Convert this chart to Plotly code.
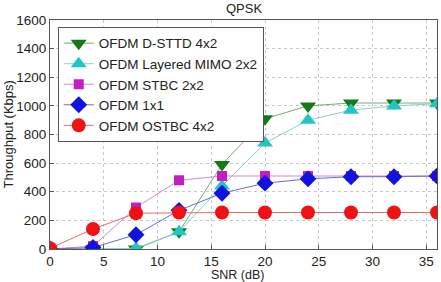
import plotly.graph_objects as go

snr = [0, 4, 8, 12, 16, 20, 24, 28, 32, 36]
dsttd = [0, 0, 0, 120, 590, 910, 1000, 1020, 1020, 1020]
layered = [0, 5, 5, 120, 440, 740, 900, 970, 1000, 1015]
stbc = [0, 20, 290, 480, 510, 510, 510, 510, 510, 510]
ofdm11 = [0, 10, 100, 270, 390, 460, 490, 505, 505, 510]
ostbc = [5, 140, 250, 255, 255, 255, 255, 255, 255, 255]

series = [
    ("OFDM D-STTD 4x2", dsttd, "#157a15", "#7aa87a", "triangle-down", 14),
    ("OFDM Layered MIMO 2x2", layered, "#22c4c4", "#8ad0d0", "triangle-up", 14),
    ("OFDM STBC 2x2", stbc, "#c21ec2", "#d08ad0", "square", 10),
    ("OFDM 1x1", ofdm11, "#1212e0", "#6a6ad8", "diamond", 13),
    ("OFDM OSTBC 4x2", ostbc, "#f01212", "#e86a6a", "circle", 14),
]

fig = go.Figure()
for name, ys, mc, lc, sym, sz in series:
    fig.add_trace(go.Scatter(
        x=snr, y=ys, name=name, mode="lines+markers",
        line=dict(color=lc, width=1),
        marker=dict(symbol=sym, size=sz, color=mc, line=dict(width=0)),
    ))

font = dict(family="Liberation Sans, Arial", size=13.5, color="#222222")
tfont = dict(family="Liberation Sans, Arial", size=13, color="#222222")
xtfont = dict(family="Liberation Sans, Arial", size=12.5, color="#222222")

axis_common = dict(
    showgrid=True, gridcolor="#c8c8c8", griddash="dot", gridwidth=1,
    showline=True, linecolor="#555555", linewidth=1, mirror=True,
    ticks="inside", ticklen=4, tickcolor="#555555",
    tickfont=font, automargin=False,
    zeroline=False,
)

fig.update_layout(
    width=441, height=282,
    margin=dict(l=50, r=4, t=20, b=33, autoexpand=False),
    paper_bgcolor="white", plot_bgcolor="white",
    xaxis=dict(range=[0, 36], tickvals=[0, 5, 10, 15, 20, 25, 30, 35], **axis_common),
    yaxis=dict(range=[0, 1600], tickvals=[0, 200, 400, 600, 800, 1000, 1200, 1400, 1600],
               **axis_common),
    legend=dict(x=0.02, y=0.97, xanchor="left", yanchor="top",
                bgcolor="white", bordercolor="#555555", borderwidth=1,
                font=dict(family="Liberation Sans, Arial", size=13.5, color="#222222"),
                tracegroupgap=0, itemwidth=30),
    showlegend=True,
    annotations=[
        dict(text="QPSK", xref="paper", yref="paper", x=0.5, y=1.0, yshift=12,
             xanchor="center", yanchor="middle", showarrow=False, font=tfont),
        dict(text="SNR (dB)", xref="paper", yref="paper", x=0.5, xshift=-6, y=0, yshift=-26,
             xanchor="center", yanchor="middle", showarrow=False, font=xtfont),
        dict(text="Throughput (Kbps)", xref="paper", yref="paper", x=0, xshift=-42, y=0.5,
             xanchor="center", yanchor="middle", textangle=-90, showarrow=False, font=tfont),
    ],
)

fig.write_html("out.html")
